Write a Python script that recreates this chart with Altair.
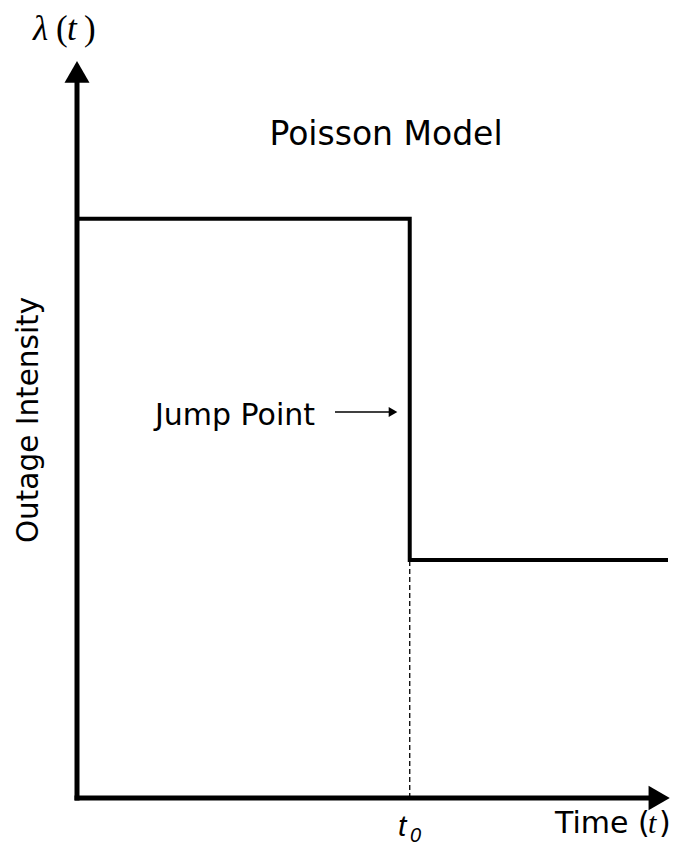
import altair as alt
import pandas as pd

# ---- data ----
time_points = [0.0, 5.63, 10.0]
intensity = [7.86, 3.23, 3.23]
jump_time = [5.63]
low_level = [3.23]
x_axis_ends = [0.0, 10.03]
y_axis_ends = [0.0, 10.0]
title_text = "Poisson Model"
y_label = "Outage Intensity"
jump_label = "Jump Point"

W, H = 662, 839
xs = alt.Scale(domain=[0, 10], range=[69, 660])
ys = alt.Scale(domain=[0, 10], range=[790, 53])

one = pd.DataFrame({"d": [0]})


def X(f):
    return alt.X(f, type="quantitative", scale=xs, axis=None)


def Y(f):
    return alt.Y(f, type="quantitative", scale=ys, axis=None)


step_df = pd.DataFrame({"t": time_points, "lam": intensity})
step = alt.Chart(step_df).mark_line(
    interpolate="step-after", color="black", strokeWidth=4, strokeJoin="miter"
).encode(x=X("t"), y=Y("lam"))

dash_df = pd.DataFrame({"t": jump_time, "y0": [0.0], "y1": low_level})
dash = alt.Chart(dash_df).mark_rule(color="black", strokeWidth=1.3, strokeDash=[5, 3]).encode(
    x=X("t"), y=Y("y0"), y2="y1:Q"
)

xaxis_df = pd.DataFrame({"x0": [x_axis_ends[0]], "x1": [x_axis_ends[1]], "y": [y_axis_ends[0]]})
xaxis = alt.Chart(xaxis_df).mark_rule(color="black", strokeWidth=5, xOffset=-2.5, x2Offset=-11).encode(
    x=X("x0"), x2="x1:Q", y=Y("y")
)
xhead = alt.Chart(xaxis_df).mark_point(
    shape="triangle-right", filled=True, color="black", opacity=1, size=600, strokeWidth=0, xOffset=-10.6
).encode(x=X("x1"), y=Y("y"))

yaxis_df = pd.DataFrame({"x": [x_axis_ends[0]], "y0": [y_axis_ends[0]], "y1": [y_axis_ends[1]]})
yaxis = alt.Chart(yaxis_df).mark_rule(color="black", strokeWidth=5, yOffset=2.5, y2Offset=11).encode(
    x=X("x"), y=Y("y0"), y2="y1:Q"
)
yhead = alt.Chart(yaxis_df).mark_point(
    shape="triangle-up", filled=True, color="black", opacity=1, size=625, strokeWidth=0, yOffset=10.8
).encode(x=X("x"), y=Y("y1"))

# jump arrow annotation
jarrow = alt.Chart(one).mark_rule(color="black", strokeWidth=1.5).encode(
    x=alt.value(327), x2=alt.value(384), y=alt.value(404)
)
jhead = alt.Chart(one).mark_point(
    shape="triangle-right", filled=True, color="black", opacity=1, size=100, strokeWidth=0
).encode(x=alt.value(385), y=alt.value(404))


def txt(text, x, y, size, font="DejaVu Sans", align="left", style="normal", angle=0):
    kw = dict(text=text, font=font, fontSize=size, align=align, baseline="alphabetic",
              color="black", fontStyle=style)
    if angle:
        kw["angle"] = angle
    return alt.Chart(one).mark_text(**kw).encode(x=alt.value(x), y=alt.value(y))


texts = [
    txt(title_text, 378, 137, 33, align="center"),
    txt(jump_label, 227, 417, 30, align="center"),
    txt(y_label, 30, 412, 29.5, align="center", angle=270),
    txt("Time (", 547, 825, 30),
    txt("t", 640, 825, 30, font="Liberation Serif", style="italic"),
    txt(")", 651, 825, 30),
    txt("t", 390, 828, 30, font="Liberation Sans", style="italic"),
    txt("0", 402, 834, 20, font="Liberation Sans", style="italic"),
    txt("\u03bb", 25, 32, 35, font="Liberation Serif", style="italic"),
    txt("(", 48, 32, 35, font="Liberation Serif"),
    txt("t", 59, 32, 35, font="Liberation Serif", style="italic"),
    txt(")", 76, 32, 35, font="Liberation Serif"),
]

chart = alt.layer(step, dash, xaxis, yaxis, xhead, yhead, jarrow, jhead, *texts).properties(
    width=W, height=H, padding=0, autosize=alt.AutoSizeParams(type="none"), background="white"
).configure_view(stroke=None)

chart.save("out.html", embed_options={"renderer": "svg", "actions": False})
